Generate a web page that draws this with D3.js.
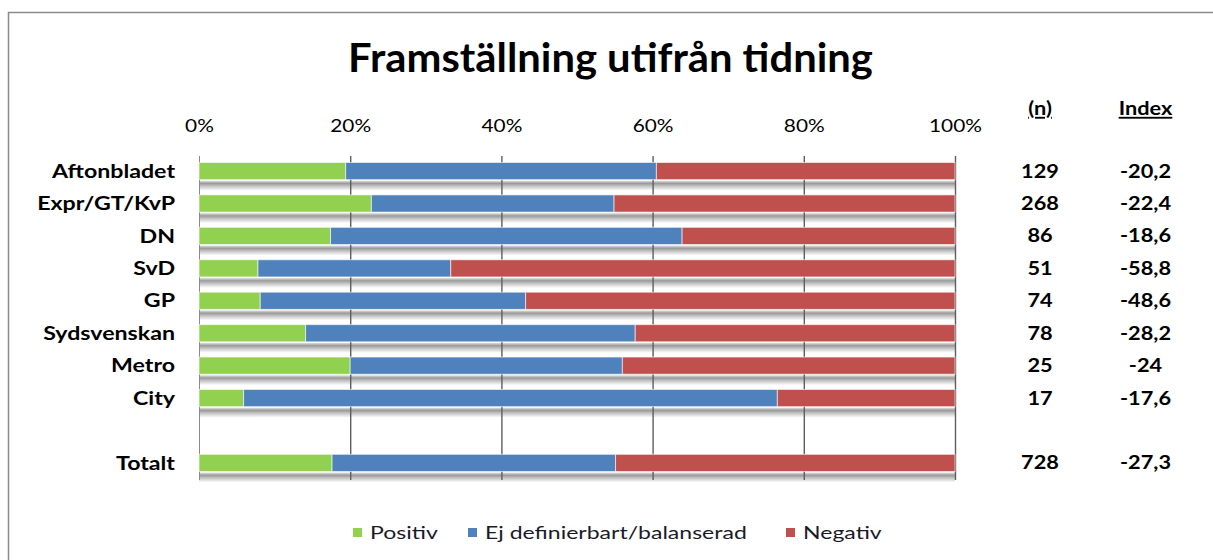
<!DOCTYPE html>
<html><head><meta charset="utf-8">
<script src="https://cdn.jsdelivr.net/npm/d3@7"></script>
<style>body{margin:0;background:#fff} svg{display:block}</style>
</head><body>
<svg id="c" width="1213" height="560"></svg>
<script>
const categories = ["Aftonbladet","Expr/GT/KvP","DN","SvD","GP","Sydsvenskan","Metro","City","Totalt"];
const positiv        = [19.4, 22.8, 17.4,  7.8,  8.1, 14.1, 20.0,  5.9, 17.6];
const ejDefinierbart = [41.1, 32.1, 46.5, 25.5, 35.1, 43.6, 36.0, 70.6, 37.5];
const negativ        = [39.5, 45.1, 36.1, 66.7, 56.8, 42.3, 44.0, 23.5, 44.9];
const nValues     = ["129","268","86","51","74","78","25","17","728"];
const indexValues = ["-20,2","-22,4","-18,6","-58,8","-48,6","-28,2","-24","-17,6","-27,3"];
const seriesNames = ["Positiv","Ej definierbart/balanserad","Negativ"];
const seriesColors = ["#92D050","#4F81BD","#C0504D"];
const tickValues = [0,20,40,60,80,100];
const titleText = "Framställning utifrån tidning";
const headerN = "(n)", headerIndex = "Index";
const gapKey = "__gap__";
const rowOrder = [...categories.slice(0,8), gapKey, categories[8]];

const svg = d3.select("#c");
const FONT = "Lato, 'Open Sans', sans-serif";

function measure(str, size, weight){
  const t = svg.append("text").attr("font-family",FONT).attr("font-size",size).attr("font-weight",weight).text(str);
  const w = t.node().getComputedTextLength(); t.remove(); return w;
}
function place(g, x, y, str, size, weight, sx, anchor){
  return g.append("text").attr("transform",`translate(${x},${y}) scale(${sx},1)`)
    .attr("font-family",FONT).attr("font-size",size).attr("font-weight",weight)
    .attr("text-anchor",anchor).attr("fill","#000").text(str);
}

// frame
svg.append("path").attr("d","M8.5,560 V12.5 H1213").attr("fill","none").attr("stroke","#8a8a8a").attr("stroke-width",1.5);

const x = d3.scaleLinear().domain([0,100]).range([199,955]);
const y = d3.scaleBand().domain(rowOrder).range([156,478]).paddingInner(0.47).paddingOuter(0.2);

const rows = categories.map((c,i)=>({cat:c, 0:positiv[i], 1:ejDefinierbart[i], 2:negativ[i], n:nValues[i], idx:indexValues[i]}));
const stacked = d3.stack().keys([0,1,2])(rows);

// shadow gradient
const defs = svg.append("defs");
const grad = defs.append("linearGradient").attr("id","sh").attr("x1",0).attr("y1",0).attr("x2",0).attr("y2",1);
grad.append("stop").attr("offset",0).attr("stop-color","#e2e2e2");
grad.append("stop").attr("offset",0.28).attr("stop-color","#9a9a9a");
grad.append("stop").attr("offset",0.55).attr("stop-color","#c4c4c4");
grad.append("stop").attr("offset",1).attr("stop-color","#ffffff");

svg.append("g").selectAll("rect").data(rows).join("rect")
  .attr("x",x(0)).attr("width",x(100)-x(0))
  .attr("y",d=>y(d.cat)+y.bandwidth()+1).attr("height",10)
  .attr("fill","url(#sh)");

// gridlines
svg.append("g").selectAll("line").data(tickValues).join("line")
  .attr("x1",d=>x(d)+0.5).attr("x2",d=>x(d)+0.5).attr("y1",156).attr("y2",480)
  .attr("stroke",d=>d===0?"#8a8a8a":"#5e5e5e").attr("stroke-width",d=>d===0?1:1.4);

// bars
svg.append("g").selectAll("g").data(stacked).join("g")
  .attr("fill",(d,i)=>seriesColors[i])
  .selectAll("rect").data(d=>d).join("rect")
  .attr("x",d=>x(d[0])).attr("width",d=>x(d[1])-x(d[0]))
  .attr("y",d=>y(d.data.cat)).attr("height",y.bandwidth())
  .attr("stroke","rgba(255,255,255,0.6)").attr("stroke-width",1);

// top tick labels
const tickSize=17.5, tickSx = 53/measure("100%",tickSize,400);
const topAxis = svg.append("g").attr("transform","translate(0,132)")
  .call(d3.axisTop(x).tickValues(tickValues).tickFormat(d=>d+"%").tickSize(0).tickPadding(0));
topAxis.select(".domain").remove();
topAxis.selectAll("text").attr("font-family",FONT).attr("font-size",tickSize).attr("fill","#000")
  .attr("dy",null).attr("y",null).attr("transform",`scale(${tickSx},1)`);

// category labels
const catSize=18.5, catSx = 123/measure("Aftonbladet",catSize,700);
const leftAxis = svg.append("g").attr("transform",`translate(${x(0)},0)`)
  .call(d3.axisLeft(y).tickValues(categories).tickSize(0).tickPadding(24));
leftAxis.select(".domain").remove();
leftAxis.selectAll("text").attr("font-family",FONT).attr("font-size",catSize).attr("font-weight",700).attr("fill","#000")
  .attr("x",-24/catSx).attr("dy","0.36em").attr("transform",`scale(${catSx},1)`);

// right columns
const colSize=18.5, colSx = 51/measure("-20,2",colSize,700);
const nX=1040, idxX=1145.5;
const cols = svg.append("g");
rows.forEach(r=>{
  const cy = y(r.cat)+y.bandwidth()/2+6.5;
  place(cols,nX,cy,r.n,colSize,700,colSx,"middle");
  place(cols,idxX,cy,r.idx,colSize,700,colSx,"middle");
});
place(cols,nX,115,headerN,colSize,700,colSx,"middle").attr("text-decoration","underline");
place(cols,idxX,115,headerIndex,colSize,700,colSx,"middle").attr("text-decoration","underline");

// title
const titleSize=41, titleSx = 525/measure(titleText,titleSize,700);
place(svg.append("g"),610.5,72,titleText,titleSize,700,titleSx,"middle");

// legend
const legSize=17, legSx = 262/measure(seriesNames[1],legSize,400);
const legX=[353,468,786];
const leg = svg.append("g");
seriesNames.forEach((s,i)=>{
  leg.append("rect").attr("x",legX[i]).attr("y",528).attr("width",9).attr("height",9).attr("fill",seriesColors[i]);
  place(leg,legX[i]+17,539,s,legSize,400,legSx,"start").attr("fill","#1a1a2a");
});
</script>
</body></html>
